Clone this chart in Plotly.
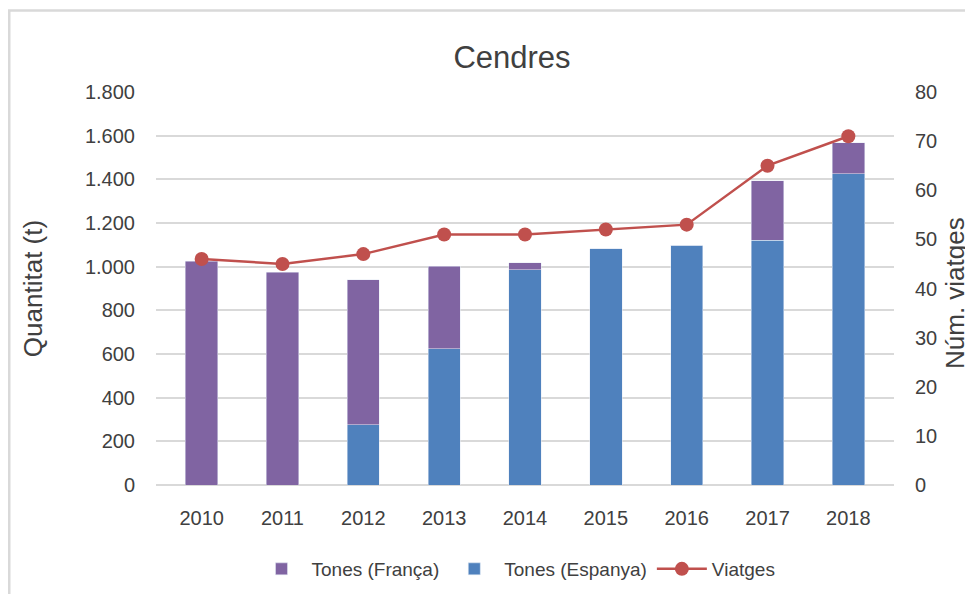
import plotly.graph_objects as go

years = ["2010", "2011", "2012", "2013", "2014", "2015", "2016", "2017", "2018"]
tones_franca = [1025, 975, 665, 380, 32, 0, 0, 271, 141]
tones_espanya = [0, 0, 275, 623, 985, 1081, 1099, 1122, 1426]
viatges = [46, 45, 47, 51, 51, 52, 53, 65, 71]

C_PURPLE = "#8064A2"
C_BLUE = "#4F81BD"
C_RED = "#C0504D"
GRID = "#D9D9D9"
TXT = "#404040"
FONT = "Liberation Sans"

fig = go.Figure()
fig.add_trace(go.Bar(x=years, y=tones_espanya, name="Tones (Espanya)", marker_color=C_BLUE,
                     legendrank=2, yaxis="y"))
fig.add_trace(go.Bar(x=years, y=tones_franca, name="Tones (França)", marker_color=C_PURPLE,
                     legendrank=1, yaxis="y"))
fig.add_trace(go.Scatter(x=years, y=viatges, name="Viatges", mode="lines+markers",
                         line=dict(color=C_RED, width=2.5),
                         marker=dict(color=C_RED, size=14), legendrank=3, yaxis="y2"))

OFF = 8  # page body margin
L, R, T, B = 156 - OFF, 894 - OFF, 92 - OFF, 485 - OFF
W, H = 973 - OFF, 594 - OFF
pw, ph = R - L, B - T

def px(x):
    return (x - OFF - L) / pw

def py(y):
    return (B - (y - OFF)) / ph

fig.update_layout(
    width=W, height=H,
    margin=dict(l=L, r=W - R, t=T, b=H - B, pad=0, autoexpand=False),
    barmode="stack", bargap=0.6,
    separators=",.",
    paper_bgcolor="white", plot_bgcolor="white",
    font=dict(family=FONT, color=TXT, size=20),
    title=dict(text="Cendres", x=(512 - OFF) / W, xanchor="center",
               y=1 - (57 - OFF) / H, yanchor="middle",
               font=dict(size=31, color=TXT, family=FONT)),
    xaxis=dict(showgrid=False, showline=False, zeroline=False, ticks="", automargin=False,
               tickfont=dict(size=20), ticklabelstandoff=19),
    yaxis=dict(range=[0, 1800], dtick=200, tickformat=",d", showgrid=True, gridcolor=GRID,
               gridwidth=1.5, zeroline=True, zerolinecolor=GRID, zerolinewidth=1.5,
               showline=False, ticks="", tickfont=dict(size=20), ticklabelstandoff=20,
               automargin=False,
               title=dict(text="Quantitat (t)", font=dict(size=26), standoff=34)),
    yaxis2=dict(range=[0, 80], dtick=10, overlaying="y", side="right", showgrid=False,
                zeroline=False, showline=False, ticks="", tickfont=dict(size=20),
                ticklabelstandoff=20, automargin=False),
    annotations=[dict(text="Núm. viatges", xref="paper", yref="paper",
                      x=px(955), y=py(293), xanchor="center", yanchor="middle",
                      textangle=-90, showarrow=False, font=dict(size=26, color=TXT))],
    legend=dict(orientation="h", x=px(516), xanchor="center", y=py(569), yanchor="middle",
                font=dict(size=19), bgcolor="rgba(0,0,0,0)", itemwidth=50,
                traceorder="normal"),
    showlegend=True,
    shapes=[dict(type="rect", xref="paper", yref="paper",
                 x0=px(9.25), x1=px(1000), y0=py(10.5), y1=py(640),
                 line=dict(color=GRID, width=2.5), fillcolor="rgba(0,0,0,0)", layer="below")],
)

fig.write_html("out.html")
